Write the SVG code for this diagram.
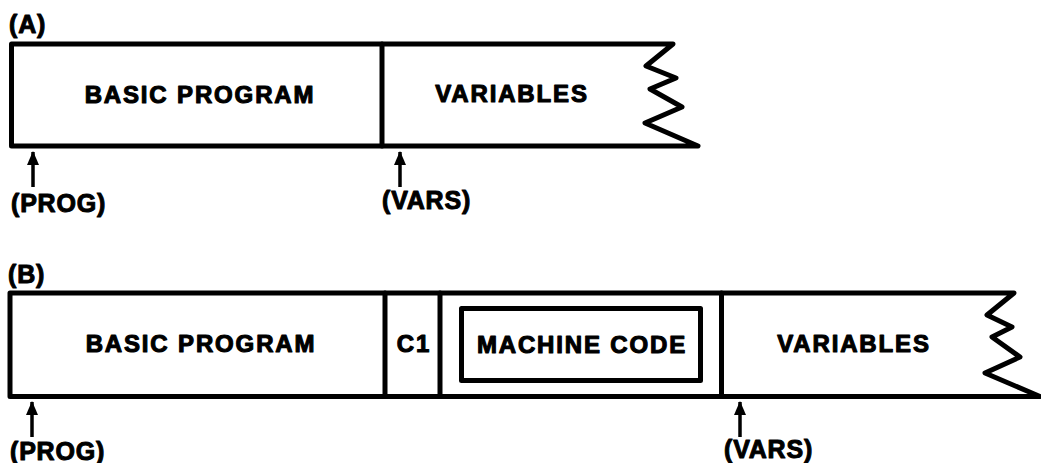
<svg xmlns="http://www.w3.org/2000/svg" width="1041" height="463" viewBox="0 0 1041 463">
  <style>
    .frame { fill: none; stroke: #000; stroke-width: 5; stroke-linejoin: round; stroke-linecap: round; }
    .edge { fill: none; stroke: #000; stroke-width: 5; stroke-linecap: butt; }
    .lbl { font-family: "Liberation Sans", Arial, sans-serif; font-weight: bold; font-size: 24px; letter-spacing: 1.85px; fill: #000; stroke: #000; stroke-width: 1.1; stroke-linejoin: round; text-anchor: middle; }
    .tag { font-family: "Liberation Sans", Arial, sans-serif; font-weight: bold; font-size: 25px; letter-spacing: 0.8px; fill: #000; stroke: #000; stroke-width: 1; stroke-linejoin: round; }
    .ptr { stroke: #000; stroke-width: 3.5; fill: none; }
  </style>
  <defs>
    <marker id="head" viewBox="0 0 14 12" refX="13" refY="6" markerWidth="14" markerHeight="12" markerUnits="userSpaceOnUse" orient="auto">
      <path d="M0,0 L14,6 L0,12 Z" fill="#000"/>
    </marker>
  </defs>
  <rect width="1041" height="463" fill="#fff"/>

  <!-- Layout (A) -->
  <text class="tag" x="9" y="33">(A)</text>
  <g id="a-program">
    <path class="frame" d="M382,44 H11.5 V146 H382"/>
    <text class="lbl" x="200" y="103">BASIC PROGRAM</text>
  </g>
  <g id="a-variables">
    <path class="frame" d="M382,44 H673 L646,66 L676,78 L650,89 L682,107 L645,123 L698,146 H382"/>
    <line class="edge" x1="382" y1="42" x2="382" y2="148"/>
    <text class="lbl" x="512" y="102">VARIABLES</text>
  </g>

  <!-- Layout (B) -->
  <text class="tag" x="8" y="283">(B)</text>
  <g id="b-program">
    <path class="frame" d="M385,293 H10 V396.5 H385"/>
    <text class="lbl" x="201" y="352">BASIC PROGRAM</text>
  </g>
  <g id="b-c1">
    <path class="frame" d="M385,293 H440 M385,396.5 H440"/>
    <line class="edge" x1="385" y1="291" x2="385" y2="399"/>
    <text class="lbl" x="414" y="352">C1</text>
  </g>
  <g id="b-machine-code">
    <path class="frame" d="M440,293 H721.5 M440,396.5 H721.5"/>
    <line class="edge" x1="440" y1="291" x2="440" y2="399"/>
    <rect class="frame" x="461.5" y="308.5" width="239" height="72" stroke-linejoin="miter"/>
    <text class="lbl" x="582" y="353">MACHINE CODE</text>
  </g>
  <g id="b-variables">
    <path class="frame" d="M721.5,293 H1014 L987,315 L1012,327 L992,337 L1020,357 L985,373 L1040,396.5 H721.5"/>
    <line class="edge" x1="721.5" y1="291" x2="721.5" y2="399"/>
    <text class="lbl" x="854" y="352">VARIABLES</text>
  </g>

  <!-- Pointers -->
  <g id="connectors">
    <line class="ptr" x1="33" y1="187" x2="33" y2="152" marker-end="url(#head)"/>
    <line class="ptr" x1="400" y1="187" x2="400" y2="152" marker-end="url(#head)"/>
    <line class="ptr" x1="32" y1="437" x2="32" y2="402" marker-end="url(#head)"/>
    <line class="ptr" x1="740" y1="437" x2="740" y2="402" marker-end="url(#head)"/>
  </g>
  <text class="tag" x="11" y="212">(PROG)</text>
  <text class="tag" x="382" y="209">(VARS)</text>
  <text class="tag" x="10" y="460">(PROG)</text>
  <text class="tag" x="724" y="458">(VARS)</text>
</svg>
